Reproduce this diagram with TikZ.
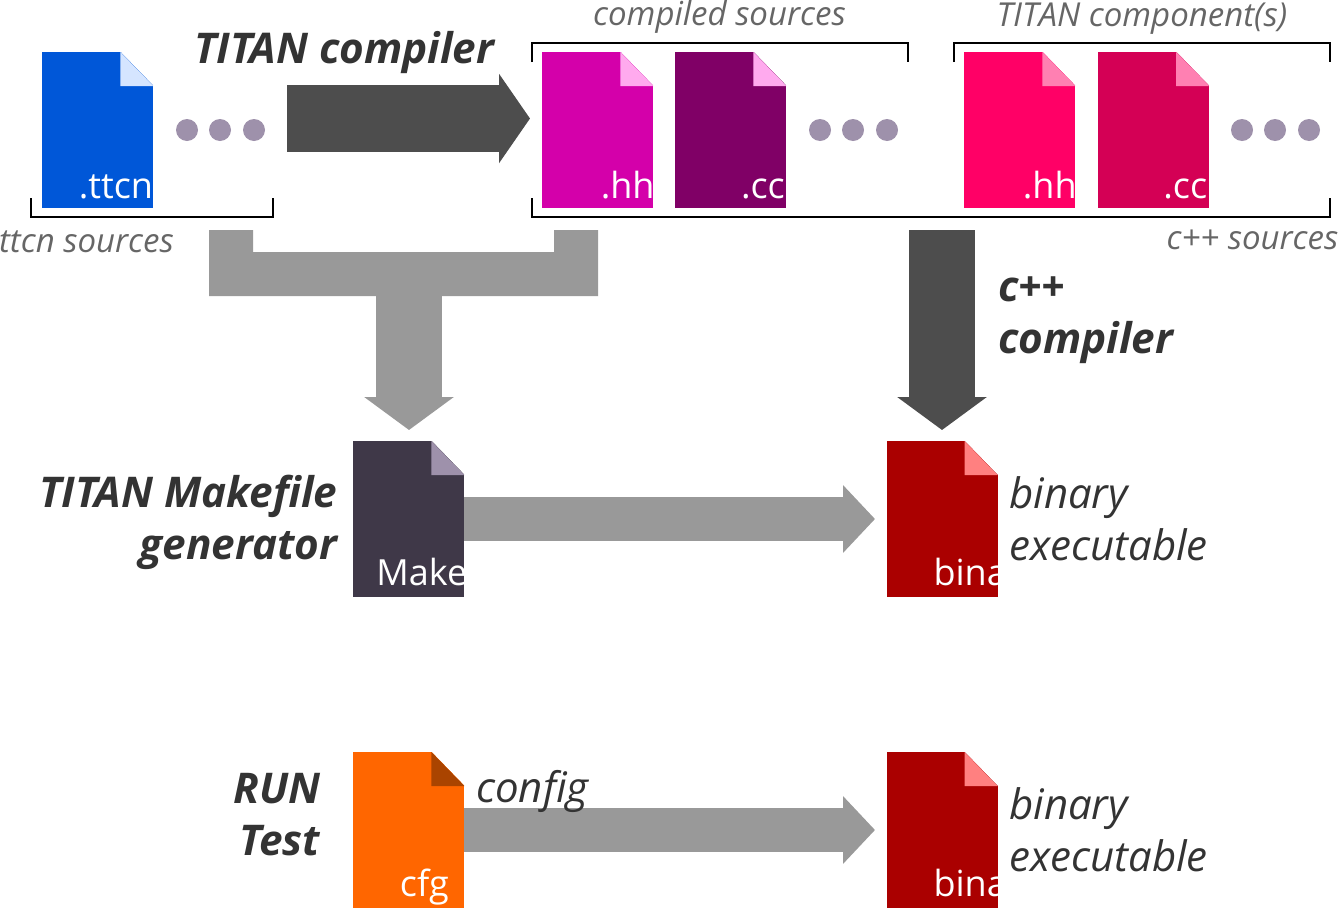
\documentclass[tikz,border=0pt]{standalone}
\usepackage{fontspec}
\setmainfont{Open Sans}
\usetikzlibrary{arrows.meta}
\definecolor{ink}{HTML}{333333}
\definecolor{soft}{HTML}{666666}
\definecolor{gry}{HTML}{999999}
\definecolor{drk}{HTML}{4D4D4D}
\definecolor{dotc}{HTML}{9E91AB}
\definecolor{cblue}{HTML}{0057D8}\definecolor{fblue}{HTML}{D5E5FF}
\definecolor{cmag}{HTML}{D400AA}\definecolor{fmag}{HTML}{FFAAEE}
\definecolor{cpur}{HTML}{800066}
\definecolor{cpink}{HTML}{FF0066}\definecolor{fpink}{HTML}{FF80B2}
\definecolor{crose}{HTML}{D40055}
\definecolor{cmake}{HTML}{3F3848}
\definecolor{cred}{HTML}{AA0000}\definecolor{fred}{HTML}{FF8080}
\definecolor{corg}{HTML}{FF6600}\definecolor{forg}{HTML}{AA4400}
\tikzset{
  x=1pt,y=-1pt,
  filebody/.style={fill=#1,minimum width=111pt,minimum height=156pt,inner sep=0pt,outer sep=0pt,rectangle},
  filelabel/.style={text=white,font=\fontsize{36}{36}\selectfont,anchor=base west,inner sep=0pt},
  bigbold/.style={text=ink,font=\fontsize{42.3}{52}\selectfont\bfseries\itshape,inner sep=0pt},
  bigtext/.style={text=ink,font=\fontsize{42}{52}\selectfont\itshape,inner sep=0pt},
  smalltext/.style={text=soft,font=\fontsize{33}{40}\selectfont\itshape,inner sep=0pt},
  dotmark/.style={circle,fill=dotc,minimum size=22pt,inner sep=0pt},
  bracketline/.style={black,line width=2.4pt,line cap=butt,line join=miter},
  graybig/.style={gry,line width=44pt,-{Triangle[length=32pt,width=66pt]}},
  graydown/.style={gry,line width=66pt,-{Triangle[length=33pt,width=88pt]}},
  darkdown/.style={drk,line width=66pt,-{Triangle[length=33pt,width=88pt]}},
  darkright/.style={drk,line width=67pt,-{Triangle[length=31pt,width=88pt]}},
}
% name, left, top, body colour, fold colour, text left offset, baseline offset, text
\newcommand{\docfile}[8]{%
  \node[filebody=#4] (#1) at (#2+55.5,#3+78) {};
  \fill[white] (#2+78,#3-0.5) -- (#2+111.5,#3-0.5) -- (#2+111.5,#3+34) -- cycle;
  \fill[#5] (#2+78,#3) -- (#2+111,#3+34) -- (#2+78,#3+34) -- cycle;
  \begin{scope}
    \clip (#2,#3) rectangle (#2+111,#3+156);
    \node[filelabel] (#1t) at (#2+#6,#3+#7) {#8};
  \end{scope}
}
\newcommand{\threedots}[4]{%
  \node[dotmark] (#1a) at (#2,130) {};
  \node[dotmark] (#1b) at (#3,130) {};
  \node[dotmark] (#1c) at (#4,130) {};
}
\begin{document}
\begin{tikzpicture}
\useasboundingbox (0,0) rectangle (1338,908);

% block arrows
\coordinate (tcs) at (287,118.5); \coordinate (tce) at (530,118.5);
\draw[darkright] (tcs) -- (tce);
\coordinate (mgs) at (409,296); \coordinate (mge) at (409,430);
\draw[graydown] (mgs) -- (mge);
\coordinate (ccs) at (942,230); \coordinate (cce) at (942,430);
\draw[darkdown] (ccs) -- (cce);
\coordinate (u1) at (209,230); \coordinate (u2) at (253,230); \coordinate (u3) at (253,252);
\coordinate (u4) at (554,252); \coordinate (u5) at (554,230); \coordinate (u6) at (598,230);
\coordinate (u7) at (598,296); \coordinate (u8) at (209,296);
\fill[gry] (u1) -- (u2) -- (u3) -- (u4) -- (u5) -- (u6) -- (u7) -- (u8) -- cycle;

% files
\docfile{ttcn}{42.3}{52}{cblue}{fblue}{36.3}{146}{.ttcn}
\docfile{hhA}{542.3}{52}{cmag}{fmag}{58.3}{146}{.hh}
\docfile{ccA}{675.4}{52}{cpur}{fmag}{65.4}{146}{.cc}
\docfile{hhB}{964.4}{52}{cpink}{fpink}{58.3}{146}{.hh}
\docfile{ccB}{1098.2}{52}{crose}{fpink}{65}{146}{.cc}
\docfile{make}{353.4}{441}{cmake}{dotc}{22.8}{144}{Make}
\docfile{binA}{886.5}{441}{cred}{fred}{46.8}{144}{bina}
\docfile{cfg}{353.4}{752}{corg}{forg}{46.3}{144}{cfg}
\docfile{binB}{886.5}{752}{cred}{fred}{46.8}{144}{bina}

% gray connectors between files
\draw[graybig] (make.east) -- (binA.west -| 875,519);
\draw[graybig] (cfg.east) -- (binB.west -| 875,830);

% dots
\threedots{da}{187}{220}{254}
\threedots{db}{820}{853}{887}
\threedots{dc}{1242}{1275}{1309}

% brackets
\draw[bracketline] (31,198) -- (31,217) -- (273,217) -- (273,198);
\draw[bracketline] (532,198) -- (532,217) -- (1330,217) -- (1330,198);
\draw[bracketline] (532,62) -- (532,43) -- (908,43) -- (908,62);
\draw[bracketline] (954,62) -- (954,43) -- (1330,43) -- (1330,62);

% labels
\node[bigbold,anchor=base west] (ltc) at (194,63.5) {TITAN compiler};
\node[smalltext,anchor=base west] (lcs) at (593,25.5) {compiled sources};
\node[smalltext,anchor=base west] (ltm) at (996.5,26.5) {TITAN component(s)};
\node[smalltext,anchor=base east] (lts) at (174,252.5) {ttcn sources};
\node[smalltext,anchor=base east] (lcp) at (1338.5,249.5) {c++ sources};
\node[bigbold,anchor=base west] (lc1) at (998,301) {c++};
\node[bigbold,anchor=base west] (lc2) at (998,353) {compiler};
\node[bigbold,anchor=base east] (lm1) at (337.5,507) {TITAN Makefile};
\node[bigbold,anchor=base east] (lm2) at (337.5,559) {generator};
\node[bigbold,anchor=base east] (lr1) at (320.5,803.5) {RUN};
\node[bigbold,anchor=base east] (lr2) at (320.5,855.5) {Test};
\node[bigtext,anchor=base west] (lb1) at (1009,508.5) {binary};
\node[bigtext,anchor=base west] (lb2) at (1009,560.5) {executable};
\node[bigtext,anchor=base west] (lb3) at (1009,819.5) {binary};
\node[bigtext,anchor=base west] (lb4) at (1009,871.5) {executable};
\node[bigtext,anchor=base west] (lcf) at (476,802.5) {config};
\end{tikzpicture}
\end{document}
